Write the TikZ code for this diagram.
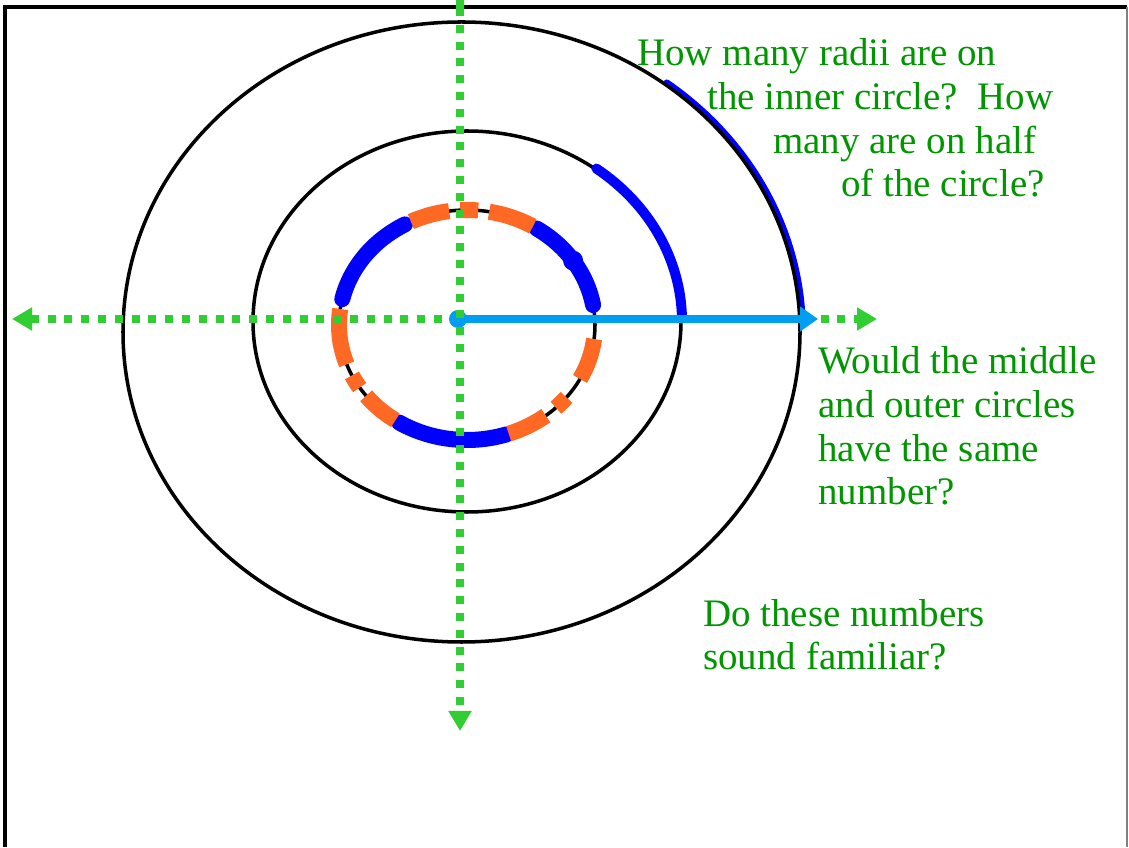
\documentclass[tikz,border=0pt]{standalone}
\usepackage{fontspec}
\setmainfont{Liberation Serif}
\usetikzlibrary{arrows.meta}
\definecolor{radAxis}{RGB}{50,205,50}
\definecolor{radText}{RGB}{0,150,0}
\definecolor{radBlue}{RGB}{0,0,255}
\definecolor{radOrange}{RGB}{255,105,35}
\definecolor{radSky}{RGB}{0,158,240}

\begin{document}
\begin{tikzpicture}[x=0.025cm, y=0.025cm,
      ring/.style={draw=black, line width=2.5pt},
      bluestroke/.style={draw=radBlue, line width=0.4cm, line cap=round},
      orangestroke/.style={draw=radOrange, line width=0.4cm, line cap=butt},
      axis/.style={draw=radAxis, line width=0.2cm,
        dash pattern=on 0.2cm off 0.22cm,
        {Triangle[length=0.5cm, width=0.55cm]}-{Triangle[length=0.5cm, width=0.55cm]}},
      radius/.style={draw=radSky, line width=0.18cm,
        -{Triangle[length=0.45cm, width=0.6cm]}},
      qtext/.style={text=radText, align=left, inner sep=0pt,
        font=\fontsize{27.7}{31.2}\selectfont},
    ]
    \useasboundingbox (0,0) rectangle (1129,847);

    % ---- frame ----
    \draw[line width=2.2pt] (5,0) -- (5,840) -- (1127,840);
    \draw[gray, line width=1pt] (1127,840) -- (1127,0);

    % ---- circles ----
    \coordinate (cIn) at (467,522);
    \coordinate (cMid) at (467,525.5);
    \coordinate (cOut) at (461.5,515);
    \draw[radBlue, line width=0.17cm, line cap=round] (cOut) ++(53:341 and 312)
      arc[start angle=53, end angle=2, x radius=341, y radius=312];
    \draw[ring] (cOut) ellipse (338.5 and 310);
    \draw[ring] (cMid) ellipse (214 and 190.5);
    \draw[ring] (cIn) ellipse (128 and 115);

    % ---- marks on the circles ----
    \draw[bluestroke, line width=0.25cm] (cMid) ++(53:215 and 191.5)
      arc[start angle=53, end angle=1, x radius=215, y radius=191.5];
    \foreach \a/\b in {119/167, 57/10, 238/288}
      \draw[bluestroke] (cIn) ++(\a:128 and 115)
        arc[start angle=\a, end angle=\b, x radius=128, y radius=115];
    \foreach \a/\b in {98/116, 85/93, 59/80, -7/-28, -39/-46, -52/-71,
                       172/200, 206/213, 218/236}
      \draw[orangestroke] (cIn) ++(\a:128 and 115)
        arc[start angle=\a, end angle=\b, x radius=128, y radius=115];
    \fill[radBlue] (cIn) ++(34:128 and 115) circle (10);

    % ---- axes and radius ----
    \coordinate (O) at (460,528);
    \coordinate (axL) at (12,528);
    \coordinate (axR) at (877,528);
    \coordinate (axT) at (460,847);
    \coordinate (axB) at (460,116);
    \coordinate (rad) at (818,528);
    \draw[axis] (axL) -- (axR);
    \draw[radius] (O) -- (rad);
    \fill[radSky] (O) ++(-2,0) circle (9);
    \draw[axis, {Butt Cap}-{Triangle[length=0.5cm, width=0.55cm]}] (axT) -- (axB);

    % ---- questions (anchored at the last baseline) ----
    \node[qtext, anchor=base west] (qRadii) at (637,650)
      {How many radii are on\\
       \hspace*{1.75cm}the inner circle?\ \ How\\
       \hspace*{3.4cm}many are on half\\
       \hspace*{5.1cm}of the circle?};
    \node[qtext, anchor=base west] (qSame) at (818,342)
      {Would the middle\\ and outer circles\\ have the same\\ number?};
    \node[qtext, anchor=base west] (qFamiliar) at (703,177)
      {Do these numbers\\ sound familiar?};
  \end{tikzpicture}
\end{document}
